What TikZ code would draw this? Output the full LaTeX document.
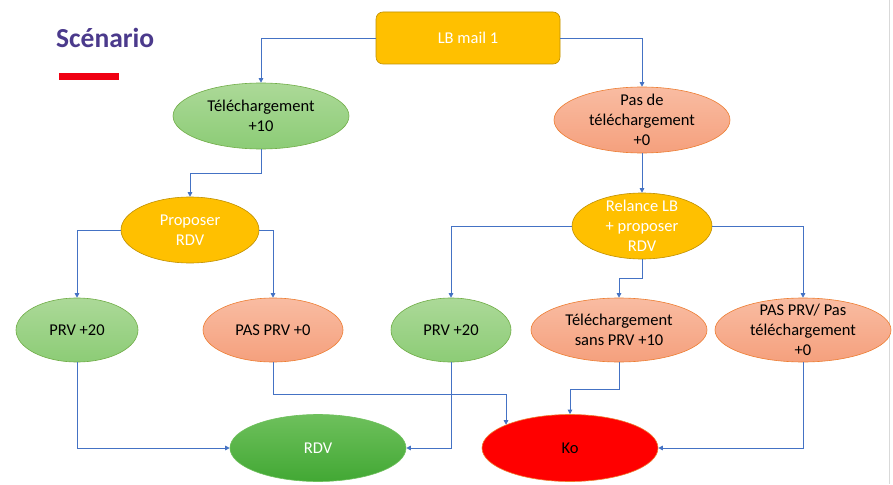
\documentclass[tikz,border=0pt]{standalone}
\usepackage{fontspec}
\setmainfont{Carlito}
\usetikzlibrary{shapes.geometric,arrows.meta,calc}
\definecolor{grnT}{RGB}{172,217,152}
\definecolor{grnB}{RGB}{140,204,118}
\definecolor{grnD}{RGB}{112,173,71}
\definecolor{orgT}{RGB}{249,188,162}
\definecolor{orgB}{RGB}{245,160,125}
\definecolor{orgD}{RGB}{237,125,49}
\definecolor{rdvT}{RGB}{110,192,92}
\definecolor{rdvB}{RGB}{66,168,52}
\definecolor{yel}{RGB}{255,192,0}
\definecolor{gold}{RGB}{192,144,0}
\definecolor{blu}{RGB}{68,114,196}
\definecolor{purp}{RGB}{75,58,140}
\definecolor{barred}{RGB}{240,0,18}
\begin{document}
\begin{tikzpicture}[x=1pt,y=-1pt,
  base/.style={ellipse, inner xsep=0pt, inner ysep=-6pt, align=center,
    font=\fontsize{16.5}{20}\selectfont, line width=0.6pt},
  greenbox/.style={base, draw=grnD, top color=grnT, bottom color=grnB},
  orangebox/.style={base, draw=orgD, top color=orgT, bottom color=orgB},
  yellowbox/.style={base, draw=gold, fill=yel, text=white},
  conn/.style={draw=blu, line width=0.8pt, -{Triangle[length=4.5pt,width=4.5pt]}}]
\useasboundingbox (0,0) rectangle (893,484);
\fill[white] (0,0) rectangle (893,484);
\draw[black!15, line width=1pt] (889,0) -- (889,484);

\node[font=\fontsize{27.5}{30}\selectfont\bfseries, text=purp, anchor=base west, inner sep=0pt] (title) at (56,48) {Scénario};
\fill[barred] (59,73) rectangle (119,80);

\node[draw=gold, fill=yel, text=white, rounded corners=7pt, minimum width=184pt, minimum height=52pt,
  font=\fontsize{16.5}{20}\selectfont, line width=0.6pt] (lb) at (468,38) {LB mail 1};

\node[greenbox, minimum width=176pt, minimum height=66pt] (tel) at (261,116) {Téléchargement\\+10};
\node[orangebox, minimum width=176pt, minimum height=66pt] (pdt) at (642,120) {Pas de\\téléchargement\\+0};
\node[yellowbox, minimum width=138pt, minimum height=66pt] (prop) at (190,230) {Proposer\\RDV};
\node[yellowbox, minimum width=140pt, minimum height=66pt] (rel) at (642,226) {Relance LB\\+ proposer\\RDV};

\node[greenbox, minimum width=122pt, minimum height=64pt] (prv1) at (77,330) {PRV +20};
\node[orangebox, minimum width=140pt, minimum height=64pt] (pasprv) at (273,330) {PAS PRV +0};
\node[greenbox, minimum width=120pt, minimum height=64pt] (prv2) at (451,330) {PRV +20};
\node[orangebox, minimum width=176pt, minimum height=64pt] (tsp) at (619,330) {Téléchargement\\sans PRV +10};
\node[orangebox, minimum width=176pt, minimum height=64pt] (ppp) at (803,330) {PAS PRV/ Pas\\téléchargement\\+0};

\node[base, draw=rdvT, top color=rdvT, bottom color=rdvB, text=white, minimum width=176pt, minimum height=67pt] (rdv) at (318,448) {RDV};
\node[base, draw=orgD, fill=red, minimum width=176pt, minimum height=67pt] (ko) at (570,448) {Ko};

\draw[conn] (lb.west) -| (tel.north);
\draw[conn] (lb.east) -| (pdt.north);
\draw[conn] (tel.south) -- (tel.south |- 0,173) -| (prop.north);
\draw[conn] (pdt.south) -- (rel.north);
\draw[conn] (prop.west) -| (prv1.north);
\draw[conn] (prop.east) -| (pasprv.north);
\draw[conn] (rel.west) -| (prv2.north);
\draw[conn] (rel.south) -- (rel.south |- 0,278) -| (tsp.north);
\draw[conn] (rel.east) -| (ppp.north);
\draw[conn] (prv1.south) |- (rdv.west);
\draw[conn] (prv2.south) |- (rdv.east);
\draw[conn] (pasprv.south) -- (pasprv.south |- 0,394) -| (ko.160);
\draw[conn] (tsp.south) -- (tsp.south |- 0,389) -| (ko.north);
\draw[conn] (ppp.south) |- (ko.east);
\end{tikzpicture}
\end{document}
